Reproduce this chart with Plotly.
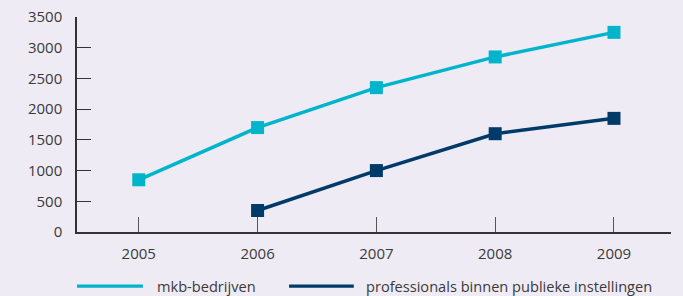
import plotly.graph_objects as go

years = [2005, 2006, 2007, 2008, 2009]
mkb_name = "mkb-bedrijven"
mkb_values = [850, 1700, 2350, 2850, 3250]
prof_name = "professionals binnen publieke instellingen"
prof_years = [2006, 2007, 2008, 2009]
prof_values = [350, 1000, 1600, 1850]
y_ticks = [0, 500, 1000, 1500, 2000, 2500, 3000, 3500]

cyan = "#00b5cb"
navy = "#003a68"
bg = "#efebf4"
font = "Open Sans"
txt = "#3a3a3a"

fig = go.Figure()
fig.add_trace(go.Scatter(x=years, y=mkb_values, name=mkb_name, mode="lines+markers",
                         line=dict(color=cyan, width=3.5),
                         marker=dict(symbol="square", size=13, color=cyan)))
fig.add_trace(go.Scatter(x=prof_years, y=prof_values, name=prof_name, mode="lines+markers",
                         line=dict(color=navy, width=3.5),
                         marker=dict(symbol="square", size=13, color=navy)))

# custom legend (paper coords relative to plot area 77..671 x, 17..232 y)
legend_y = -0.252
legend_items = [(mkb_name, cyan, 0.0, 0.111, 0.131), (prof_name, navy, 0.357, 0.466, 0.483)]
for name, col, x0, x1, xt in legend_items:
    fig.add_shape(type="line", xref="paper", yref="paper", x0=x0, x1=x1, y0=legend_y, y1=legend_y,
                  line=dict(color=col, width=3.3))
    fig.add_annotation(xref="paper", yref="paper", x=xt, y=legend_y, text=name,
                       showarrow=False, xanchor="left", yanchor="middle",
                       font=dict(family=font, size=14.6, color=txt))

fig.update_layout(
    width=683, height=296,
    margin=dict(l=77, r=12, t=17, b=64, autoexpand=False),
    paper_bgcolor=bg, plot_bgcolor=bg,
    showlegend=False,
    font=dict(family=font, size=15, color=txt),
    xaxis=dict(range=[2004.48, 2009.48], tickvals=years, ticks="inside", ticklen=15,
               tickcolor="#555555", tickwidth=1, showgrid=False, zeroline=False,
               showline=True, linecolor="#333333", linewidth=1.5, ticklabelstandoff=7,
               automargin=False),
    yaxis=dict(range=[0, 3500], tickvals=y_ticks, ticks="inside", ticklen=14,
               tickcolor="#333333", tickwidth=1, showgrid=False, zeroline=False,
               showline=True, linecolor="#333333", linewidth=1.5, ticklabelstandoff=10,
               automargin=False),
)

fig.write_html("out.html", config={"displayModeBar": False},
               post_script="document.body.style.margin='0';")
